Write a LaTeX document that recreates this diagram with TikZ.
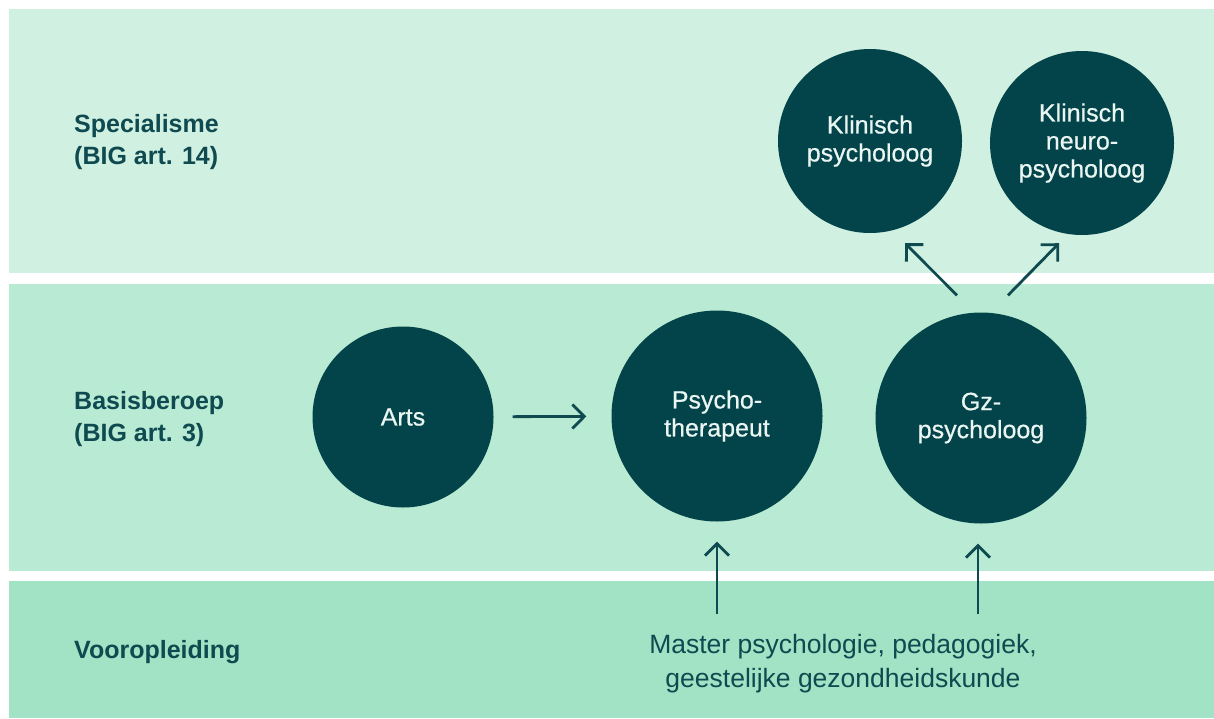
\documentclass[tikz,border=0pt]{standalone}
\usepackage{fontspec}
\setmainfont{Liberation Sans}
\newfontfamily\bubblefont[FakeBold=0.6]{Liberation Sans}
\usetikzlibrary{arrows.meta}
\definecolor{bandA}{HTML}{D0F0E1}
\definecolor{bandB}{HTML}{B9EAD3}
\definecolor{bandC}{HTML}{A2E3C5}
\definecolor{bubblefill}{HTML}{03434A}
\definecolor{inktext}{HTML}{0E4A50}
\definecolor{bubbletext}{HTML}{EAF6F1}
\tikzset{
  bubble/.style={circle, fill=bubblefill, text=bubbletext, inner sep=0pt, align=center,
    font=\bubblefont\fontsize{25}{28}\selectfont},
  rowlabel/.style={anchor=west, align=left, text=inktext, inner sep=0pt,
    font=\bfseries\fontsize{25}{32}\selectfont},
  arr/.style={draw=inktext, line width=2.8pt,
    -{Straight Barb[length=12pt,width=24pt,line width=2.8pt]}}
}
\begin{document}
\begin{tikzpicture}[x=1pt,y=-1pt]
\useasboundingbox (0,0) rectangle (1214,718);
\fill[white] (0,0) rectangle (1214,718);
\fill[bandA] (9,9) rectangle (1214,273);
\fill[bandB] (9,284) rectangle (1214,571);
\fill[bandC] (9,581) rectangle (1214,718);

\node[rowlabel] (l1) at (74,142) {Specialisme\\(BIG art. 14)};
\node[rowlabel] (l2) at (74,419) {Basisberoep\\(BIG art. 3)};
\node[rowlabel] (l3) at (74,652) {Vooropleiding};

\node[bubble, minimum size=181pt] (arts) at (403,417) {Arts};
\node[bubble, minimum size=211pt] (psy) at (717,416) {Psycho-\\therapeut};
\node[bubble, minimum size=211pt] (gz) at (981,418) {Gz-\\psycholoog};
\node[bubble, minimum size=184pt] (kp) at (870,141) {Klinisch\\psycholoog};
\node[bubble, minimum size=184pt] (knp) at (1082,143) {Klinisch\\neuro-\\psycholoog};

\node[text=inktext, align=center, inner sep=0pt, font=\fontsize{26.5}{34}\selectfont]
  (master) at (843,664) {Master psychologie, pedagogiek,\\geestelijke gezondheidskunde};

\coordinate (m1) at (717,614);
\coordinate (m2) at (978,614);
\coordinate (g1) at ([shift={(-24,-17)}]gz.north);
\coordinate (g2) at ([shift={(27,-17)}]gz.north);
\coordinate (k1) at ([shift={(35,10)}]kp.south);
\coordinate (k2) at ([shift={(-23,8)}]knp.south);

\draw[arr, shorten <=19pt, shorten >=25pt] (arts) -- (psy);
\draw[arr, shorten >=20pt] (m1) -- (m1 |- psy.south);
\draw[arr, shorten >=20pt] (m2) -- (m2 |- gz.south);
\draw[arr] (g1) -- (k1);
\draw[arr] (g2) -- (k2);
\end{tikzpicture}
\end{document}
